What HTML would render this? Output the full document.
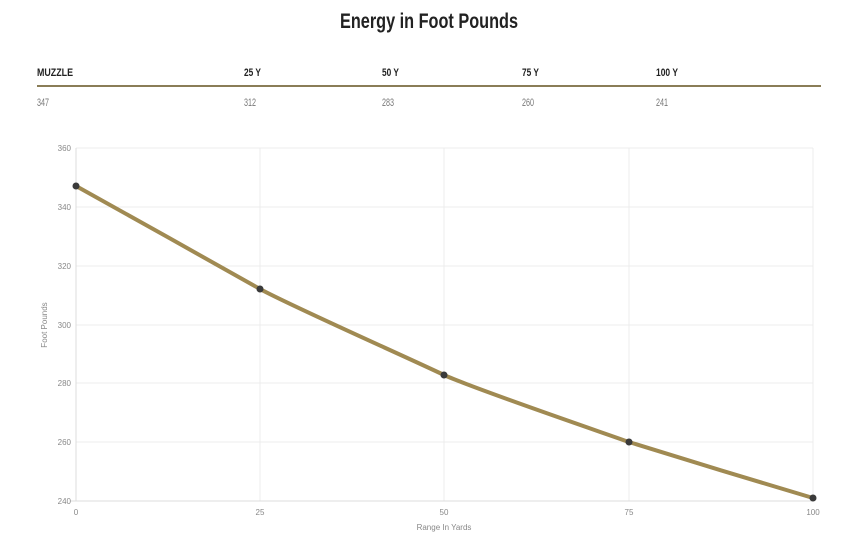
<!DOCTYPE html>
<html><head><meta charset="utf-8"><style>
body{margin:0;background:#fff;width:858px;height:539px;overflow:hidden;font-family:"Liberation Sans",sans-serif}
</style></head><body>
<svg width="858" height="539" xmlns="http://www.w3.org/2000/svg" style="position:absolute;left:0;top:0">
<text x="340" y="28" textLength="178" lengthAdjust="spacingAndGlyphs" font-weight="bold" font-size="21" fill="#222">Energy in Foot Pounds</text>
<g font-weight="bold" font-size="11" fill="#222">
<text x="37" y="76" textLength="36" lengthAdjust="spacingAndGlyphs">MUZZLE</text>
<text x="244" y="76" textLength="17" lengthAdjust="spacingAndGlyphs">25 Y</text>
<text x="382" y="76" textLength="17" lengthAdjust="spacingAndGlyphs">50 Y</text>
<text x="522" y="76" textLength="17" lengthAdjust="spacingAndGlyphs">75 Y</text>
<text x="656" y="76" textLength="22" lengthAdjust="spacingAndGlyphs">100 Y</text>
</g>
<rect x="37" y="85" width="784" height="2" fill="#8a7d57"/>
<g font-size="11" fill="#777">
<text x="37" y="106" textLength="12" lengthAdjust="spacingAndGlyphs">347</text>
<text x="244" y="106" textLength="12" lengthAdjust="spacingAndGlyphs">312</text>
<text x="382" y="106" textLength="12" lengthAdjust="spacingAndGlyphs">283</text>
<text x="522" y="106" textLength="12" lengthAdjust="spacingAndGlyphs">260</text>
<text x="656" y="106" textLength="12" lengthAdjust="spacingAndGlyphs">241</text>
</g>
<g stroke="#ececec" stroke-width="1">
<line x1="76" y1="148" x2="813" y2="148"/><line x1="76" y1="207" x2="813" y2="207"/><line x1="76" y1="266" x2="813" y2="266"/><line x1="76" y1="325" x2="813" y2="325"/><line x1="76" y1="383" x2="813" y2="383"/><line x1="76" y1="442" x2="813" y2="442"/>
<line x1="260" y1="148" x2="260" y2="501"/><line x1="444" y1="148" x2="444" y2="501"/><line x1="629" y1="148" x2="629" y2="501"/><line x1="813" y1="148" x2="813" y2="501"/>
</g>
<g stroke="#dcdcdc"><line x1="76" y1="148" x2="76" y2="501"/><line x1="70" y1="501" x2="813" y2="501"/></g>
<g font-size="8" fill="#888" text-anchor="end">
<text x="71" y="151">360</text><text x="71" y="210">340</text><text x="71" y="269">320</text><text x="71" y="328">300</text><text x="71" y="386">280</text><text x="71" y="445">260</text><text x="71" y="504">240</text>
</g>
<g font-size="8" fill="#888" text-anchor="middle">
<text x="76" y="515">0</text><text x="260" y="515">25</text><text x="444" y="515">50</text><text x="629" y="515">75</text><text x="813" y="515">100</text>
<text x="444" y="530">Range In Yards</text>
<text x="0" y="0" transform="translate(47 325) rotate(-90)">Foot Pounds</text>
</g>
<path d="M76,186 C106,203 229,271 260,289 C291,306 413,360 444,375 C475,389 598,431 629,442 C660,452 782,489 813,498" fill="none" stroke="#a08a52" stroke-width="4"/>
<g fill="#3a3a3a"><circle cx="76" cy="186" r="3.5"/><circle cx="260" cy="289" r="3.5"/><circle cx="444" cy="375" r="3.5"/><circle cx="629" cy="442" r="3.5"/><circle cx="813" cy="498" r="3.5"/></g>
</svg>
</body></html>
